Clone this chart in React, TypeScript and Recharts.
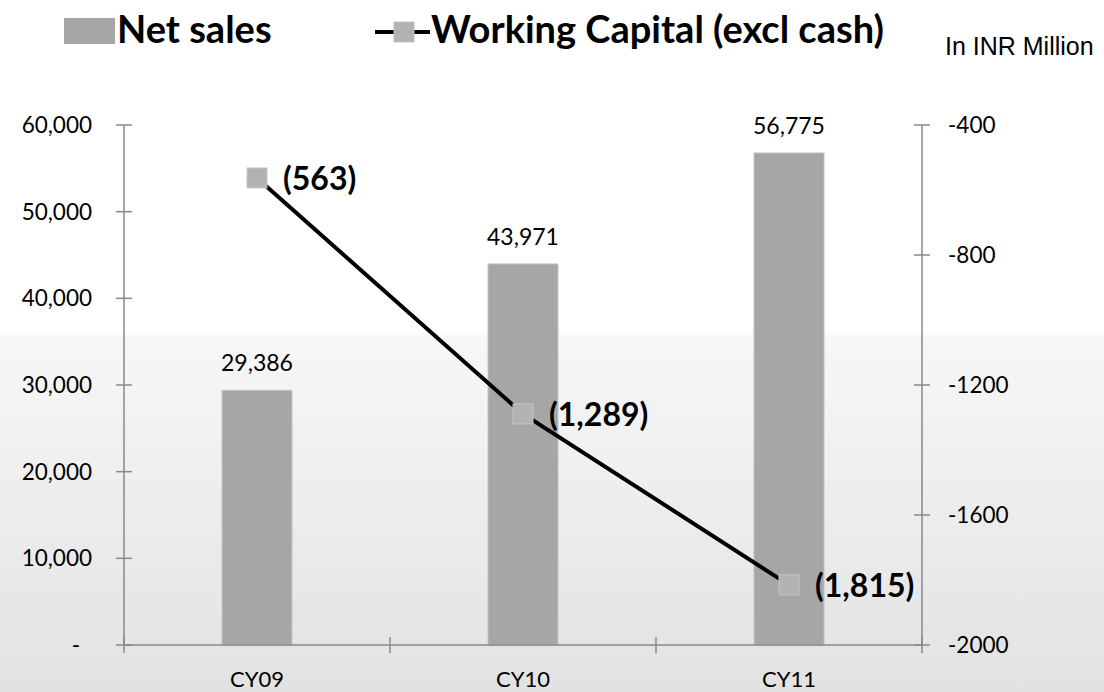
import { ComposedChart, Bar, Line, XAxis, YAxis, LabelList } from 'recharts'

const categories = ['CY09', 'CY10', 'CY11']
const netSales = [29386, 43971, 56775]
const workingCapital = [-563, -1289, -1815]
const leftTicks = [0, 10000, 20000, 30000, 40000, 50000, 60000]
const rightTicks = [-2000, -1600, -1200, -800, -400]

const data = categories.map((name, i) => ({
  name,
  sales: netSales[i],
  wc: workingCapital[i],
}))

const FONT = 'Lato, "Open Sans", sans-serif'
const AXIS = '#898989'
const TICK_SIZE = 8
const TICK_MARGIN_LEFT = 24
const TICK_MARGIN_RIGHT = 18
const TICK_MARGIN_X = 8

const fmt = (v: number) => v.toLocaleString('en-US')

const LeftTick = (props: any) => {
  const { x, y, payload } = props
  const axisX = x + TICK_SIZE + TICK_MARGIN_LEFT
  const v = payload.value as number
  return (
    <g>
      <line x1={axisX - 8} x2={axisX + 8} y1={y} y2={y} stroke={AXIS} strokeWidth={1.5} />
      <text
        x={v === 0 ? x - 12 : x}
        y={y}
        dy="0.36em"
        textAnchor="end"
        fontFamily={FONT}
        fontSize={22.5}
        fill="#000"
      >
        {v === 0 ? '-' : fmt(v)}
      </text>
    </g>
  )
}

const RightTick = (props: any) => {
  const { x, y, payload } = props
  const axisX = x - TICK_SIZE - TICK_MARGIN_RIGHT
  return (
    <g>
      <line x1={axisX - 8} x2={axisX + 8} y1={y} y2={y} stroke={AXIS} strokeWidth={1.5} />
      <text x={x} y={y} dy="0.36em" textAnchor="start" fontFamily={FONT} fontSize={22.5} fill="#000">
        {payload.value}
      </text>
    </g>
  )
}

const BottomTick = (props: any) => {
  const { x, y, payload, index, visibleTicksCount } = props
  const axisY = y - TICK_SIZE - TICK_MARGIN_X
  const half = payload.offset || 0
  return (
    <g>
      <line x1={x - half} x2={x - half} y1={axisY - 8} y2={axisY + 8} stroke={AXIS} strokeWidth={1.5} />
      {index === visibleTicksCount - 1 && (
        <line x1={x + half} x2={x + half} y1={axisY - 8} y2={axisY + 8} stroke={AXIS} strokeWidth={1.5} />
      )}
      <text x={x} y={axisY + 42} textAnchor="middle" fontFamily={FONT} fontSize={22} fill="#000">
        {payload.value}
      </text>
    </g>
  )
}

const SquareDot = (props: any) => {
  const { cx, cy, index } = props
  if (cx == null || cy == null) return null
  return (
    <rect
      key={`dot-${index}`}
      x={cx - 10}
      y={cy - 10}
      width={20}
      height={20}
      fill="#b2b2b2"
      stroke="#c6c6c6"
      strokeWidth={1}
    />
  )
}

const WcLabel = (props: any) => {
  const { x, y, value } = props
  return (
    <text x={x + 26} y={y + 12} fontFamily={FONT} fontWeight={700} fontSize={32} fill="#000">
      {`(${fmt(Math.abs(value))})`}
    </text>
  )
}

export default function App() {
  return (
    <div
      style={{
        position: 'fixed',
        left: 0,
        top: 0,
        width: 1104,
        height: 692,
        background:
          'linear-gradient(to bottom, #ffffff 0%, #ffffff 48%, #f7f7f7 48.6%, #e2e2e2 100%)',
      }}
    >
      <ComposedChart
        width={1104}
        height={692}
        data={data}
        margin={{ top: 125, right: 82, bottom: 0, left: 24 }}
      >
        <XAxis
          dataKey="name"
          height={47}
          stroke={AXIS}
          strokeWidth={1.5}
          tickLine={false}
          tickSize={TICK_SIZE}
          tickMargin={TICK_MARGIN_X}
          tick={BottomTick}
          interval={0}
        />
        <YAxis
          yAxisId="left"
          width={100}
          domain={[0, 60000]}
          ticks={leftTicks}
          stroke={AXIS}
          strokeWidth={1.5}
          tickLine={false}
          tickSize={TICK_SIZE}
          tickMargin={TICK_MARGIN_LEFT}
          tick={LeftTick}
          interval={0}
        />
        <YAxis
          yAxisId="right"
          orientation="right"
          width={100}
          domain={[-2000, -400]}
          ticks={rightTicks}
          stroke={AXIS}
          strokeWidth={1.5}
          tickLine={false}
          tickSize={TICK_SIZE}
          tickMargin={TICK_MARGIN_RIGHT}
          tick={RightTick}
          interval={0}
        />
        <Bar
          yAxisId="left"
          dataKey="sales"
          barSize={70}
          fill="#a6a6a6"
          stroke="#c4c4c4"
          strokeWidth={1}
          isAnimationActive={false}
        >
          <LabelList
            dataKey="sales"
            position="top"
            offset={19}
            formatter={(v: any) => fmt(Number(v))}
            fill="#000"
            fontFamily={FONT}
            fontSize={23}
          />
        </Bar>
        <Line
          yAxisId="right"
          dataKey="wc"
          stroke="#000"
          strokeWidth={4}
          dot={SquareDot}
          activeDot={false}
          isAnimationActive={false}
        >
          <LabelList dataKey="wc" content={WcLabel} />
        </Line>
      </ComposedChart>

      <svg
        width={1104}
        height={100}
        style={{ position: 'absolute', left: 0, top: 0, pointerEvents: 'none' }}
      >
        <rect x={64} y={18} width={51} height={26} fill="#a6a6a6" />
        <text x={117} y={43} fontFamily={FONT} fontWeight={700} fontSize={38} fill="#000">
          Net sales
        </text>
        <line x1={375} x2={430} y1={32} y2={32} stroke="#000" strokeWidth={4} />
        <rect x={394} y={22} width={20} height={20} fill="#b2b2b2" stroke="#c6c6c6" strokeWidth={1} />
        <text x={431} y={43} fontFamily={FONT} fontWeight={700} fontSize={38} fill="#000">
          Working Capital (excl cash)
        </text>
        <text x={945} y={55} fontFamily='"Liberation Sans", Arial, sans-serif' fontSize={25} fill="#000">
          In INR Million
        </text>
      </svg>
    </div>
  )
}
